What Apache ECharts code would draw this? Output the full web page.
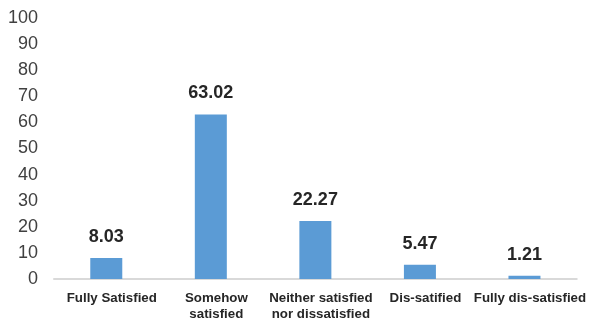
<!DOCTYPE html>
<html>
<head>
<meta charset="utf-8">
<script src="https://cdn.jsdelivr.net/npm/echarts@6/dist/echarts.min.js"></script>
<style>
  html, body { margin: 0; padding: 0; background: #fff; }
  #chart { width: 589px; height: 322px; }
</style>
</head>
<body>
<div id="chart"></div>
<script>
// Satisfaction levels and their shares (%)
const categories = ['Fully Satisfied', 'Somehow\nsatisfied', 'Neither satisfied\nnor dissatisfied', 'Dis-satified', 'Fully dis-satisfied'];
const values = [8.03, 63.02, 22.27, 5.47, 1.21];
const yMin = 0;
const yMax = 100;
const yStep = 10;

const font = '"Liberation Sans", Arial, sans-serif';
const chart = echarts.init(document.getElementById('chart'), null, { renderer: 'canvas' });
chart.setOption({
  animation: false,
  grid: { left: 54, right: 11, top: 18, bottom: 43 },
  xAxis: {
    type: 'category',
    data: categories,
    axisLine: { lineStyle: { color: '#d9d9d9', width: 2 } },
    axisTick: { show: false },
    axisLabel: {
      interval: 0,
      margin: 11,
      padding: [0, 0, 0, 11],
      fontFamily: font,
      fontSize: 13.3,
      fontWeight: 'bold',
      color: '#262626',
      lineHeight: 16
    }
  },
  yAxis: {
    type: 'value',
    min: yMin,
    max: yMax,
    interval: yStep,
    splitLine: { show: false },
    axisLine: { show: false },
    axisTick: { show: false },
    axisLabel: {
      margin: 16,
      fontFamily: font,
      fontSize: 18,
      color: '#404040'
    }
  },
  series: [{
    type: 'bar',
    data: values,
    barWidth: 32,
    itemStyle: { color: '#5b9bd5' },
    label: {
      show: true,
      position: 'top',
      distance: 12,
      fontFamily: font,
      fontSize: 18,
      fontWeight: 'bold',
      color: '#262626',
      formatter: p => p.value.toFixed(2)
    }
  }]
});
</script>
</body>
</html>
